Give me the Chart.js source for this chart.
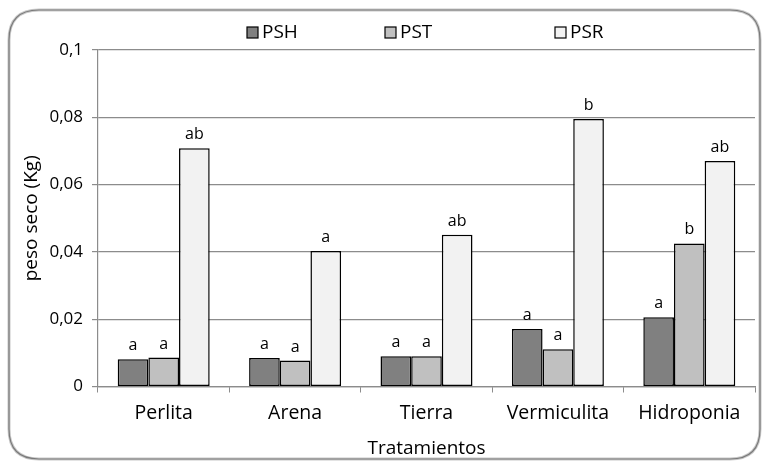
<!DOCTYPE html>
<html>
<head>
<meta charset="utf-8">
<script src="https://cdn.jsdelivr.net/npm/chart.js@4"></script>
<style>
html,body{margin:0;padding:0;background:#fff;}
#wrap{width:763px;height:461px;position:relative;}
</style>
</head>
<body>
<div id="wrap"><canvas id="c" width="763" height="461"></canvas></div>
<script>
const categories = ["Perlita", "Arena", "Tierra", "Vermiculita", "Hidroponia"];
const seriesNames = ["PSH", "PST", "PSR"];
const psh = [0.0081, 0.0085, 0.0090, 0.0171, 0.0206];
const pst = [0.0086, 0.0077, 0.0090, 0.0111, 0.0425];
const psr = [0.0708, 0.0403, 0.0451, 0.0795, 0.0670];
const pshLetters = ["a", "a", "a", "a", "a"];
const pstLetters = ["a", "a", "a", "a", "b"];
const psrLetters = ["ab", "a", "ab", "b", "ab"];
const yTicks = [0, 0.02, 0.04, 0.06, 0.08, 0.1];

const FONT = "'Open Sans', Lato, sans-serif";
const colors = ["#808080", "#c0c0c0", "#f2f2f2"];
const letters = [pshLetters, pstLetters, psrLetters];

const framePlugin = {
  id: 'frame',
  beforeDraw(chart) {
    const ctx = chart.ctx;
    ctx.save();
    ctx.fillStyle = '#fff';
    ctx.fillRect(0, 0, chart.width, chart.height);
    const x = 9, y = 10, w = 751, h = 449, r = 30;
    ctx.beginPath();
    ctx.moveTo(x + r, y);
    ctx.lineTo(x + w - r, y);
    ctx.quadraticCurveTo(x + w, y, x + w, y + r);
    ctx.lineTo(x + w, y + h - r);
    ctx.quadraticCurveTo(x + w, y + h, x + w - r, y + h);
    ctx.lineTo(x + r, y + h);
    ctx.quadraticCurveTo(x, y + h, x, y + h - r);
    ctx.lineTo(x, y + r);
    ctx.quadraticCurveTo(x, y, x + r, y);
    ctx.closePath();
    ctx.strokeStyle = '#c8c8c8';
    ctx.lineWidth = 3;
    ctx.stroke();
    ctx.strokeStyle = '#7a7a7a';
    ctx.lineWidth = 1.2;
    ctx.stroke();
    ctx.restore();
  }
};

const legendPlugin = {
  id: 'customLegend',
  afterDraw(chart) {
    const ctx = chart.ctx;
    const xs = [247, 385, 555];
    ctx.save();
    ctx.font = "19px " + FONT;
    ctx.textBaseline = 'middle';
    ctx.textAlign = 'left';
    chart.data.datasets.forEach((ds, i) => {
      ctx.fillStyle = ds.backgroundColor;
      ctx.fillRect(xs[i], 27, 11, 11);
      ctx.strokeStyle = '#000';
      ctx.lineWidth = 1.2;
      ctx.strokeRect(xs[i], 27, 11, 11);
      ctx.fillStyle = '#000';
      ctx.fillText(ds.label, xs[i] + 15, 33);
    });
    ctx.restore();
  }
};

const letterPlugin = {
  id: 'letters',
  afterDatasetsDraw(chart) {
    const ctx = chart.ctx;
    ctx.save();
    ctx.font = "16px " + FONT;
    ctx.fillStyle = '#000';
    ctx.textAlign = 'center';
    ctx.textBaseline = 'alphabetic';
    chart.data.datasets.forEach((ds, i) => {
      const meta = chart.getDatasetMeta(i);
      meta.data.forEach((bar, j) => {
        ctx.fillText(letters[i][j], bar.x, bar.y - 9);
      });
    });
    ctx.restore();
  }
};

new Chart(document.getElementById('c'), {
  type: 'bar',
  data: {
    labels: categories,
    datasets: [psh, pst, psr].map((vals, i) => ({
      label: seriesNames[i],
      data: vals,
      backgroundColor: colors[i],
      borderColor: '#000',
      borderWidth: 1.5,
      borderSkipped: false,
      categoryPercentage: 0.70,
      barPercentage: 1.0
    }))
  },
  options: {
    responsive: false,
    animation: false,
    devicePixelRatio: 1,
    layout: { padding: { top: 50, right: 8, bottom: 0, left: 0 } },
    plugins: { legend: { display: false }, tooltip: { enabled: false } },
    scales: {
      x: {
        afterFit(s) { s.height = 74.5; },
        grid: { display: true, drawOnChartArea: false, drawTicks: true, tickLength: 6, color: '#8c8c8c', offset: true },
        border: { display: true, color: '#8c8c8c', width: 1.2 },
        ticks: { color: '#000', font: { family: FONT, size: 19.5 }, padding: 9 },
        title: { display: true, text: 'Tratamientos', color: '#000', font: { family: FONT, size: 19 }, padding: { top: 0, bottom: 1 } }
      },
      y: {
        min: 0, max: 0.1,
        afterFit(s) { s.width = 98; },
        afterBuildTicks(s) { s.ticks = yTicks.map(v => ({ value: v })); },
        grid: { color: '#8c8c8c', lineWidth: 1.2, drawTicks: true, tickLength: 6 },
        border: { display: true, color: '#8c8c8c', width: 1.2 },
        ticks: {
          color: '#000', font: { family: FONT, size: 17 }, padding: 9,
          callback: v => String(Math.round(v * 100) / 100).replace('.', ',')
        },
        title: { display: true, text: 'peso seco (Kg)', color: '#000', font: { family: FONT, size: 19 }, padding: { top: 20, bottom: 0 } }
      }
    }
  },
  plugins: [framePlugin, legendPlugin, letterPlugin]
});
</script>
</body>
</html>
